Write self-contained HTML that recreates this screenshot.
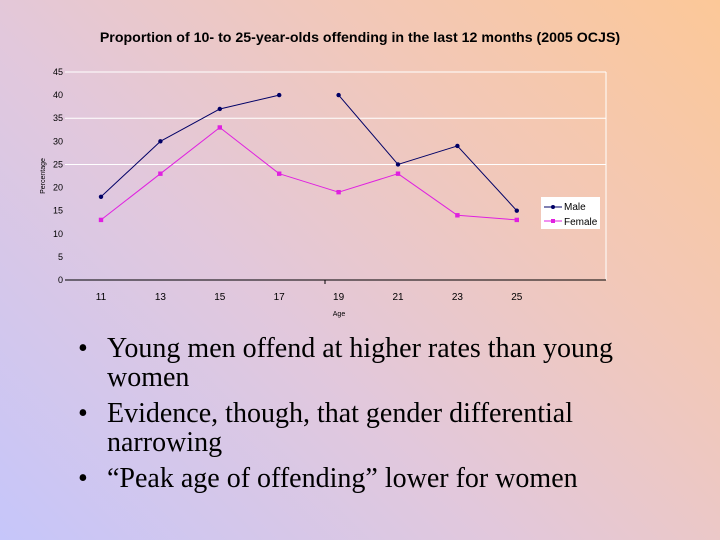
<!DOCTYPE html>
<html><head><meta charset="utf-8"><style>
body{margin:0;width:720px;height:540px;overflow:hidden;background:linear-gradient(45deg,#c6c6fa 0%,#e2c8dc 40%,#f2c8b8 70%,#fcc898 100%);font-family:"Liberation Sans",sans-serif;}
ul{position:absolute;left:78px;top:334px;margin:0;padding:0;list-style:none;font-family:"Liberation Serif",serif;font-size:28px;line-height:29px;color:#000;width:550px}
li{position:relative;padding-left:29px;margin-bottom:7px}
li:before{content:"•";position:absolute;left:0}
</style></head><body>
<svg width="720" height="330" style="position:absolute;left:0;top:0">
<text x="360" y="42" text-anchor="middle" font-size="14.2" font-weight="bold">Proportion of 10- to 25-year-olds offending in the last 12 months (2005 OCJS)</text>
<g id="grid"></g><g id="axes"></g><g id="series"></g>
<text x="339" y="316" text-anchor="middle" font-size="7">Age</text>
<text transform="translate(45,176) rotate(-90)" text-anchor="middle" font-size="7">Percentage</text>
<g>
<rect x="541" y="197" width="59" height="32" fill="#fff"/>
<line x1="544" y1="207" x2="562" y2="207" stroke="#000066"/><circle cx="553" cy="207" r="2" fill="#000066"/>
<text x="564" y="210" font-size="10">Male</text>
<line x1="544" y1="221" x2="562" y2="221" stroke="#e020e0"/><rect x="551" y="219" width="4" height="4" fill="#e020e0"/>
<text x="564" y="225" font-size="10">Female</text>
</g>
</svg>
<ul>
<li>Young men offend at higher rates than young women</li>
<li>Evidence, though, that gender differential narrowing</li>
<li>“Peak age of offending” lower for women</li>
</ul>
<script>
const ages=["11","13","15","17","19","21","23","25"];
const male=[18,30,37,40,40,25,29,15];
const maleBreaks=[3];
const female=[13,23,33,23,19,23,14,13];
const yTicks=[0,5,10,15,20,25,30,35,40,45];
const NS="http://www.w3.org/2000/svg";
const X=i=>101+i*59.4, Y=v=>280-v*(208/45);
function mk(t,a,p){const e=document.createElementNS(NS,t);for(const k in a)e.setAttribute(k,a[k]);p.appendChild(e);return e;}
const grid=document.getElementById('grid'),axes=document.getElementById('axes'),ser=document.getElementById('series');
[45,35,25].forEach(v=>{const l=mk('line',{x1:65,x2:606,y1:Y(v),y2:Y(v),stroke:'#fff','stroke-width':1},grid);

});
mk('line',{x1:606,x2:606,y1:Y(45),y2:280,stroke:'#fff'},grid);
mk('line',{x1:65,x2:606,y1:280,y2:280,stroke:'#000'},axes);
mk('line',{x1:325,x2:325,y1:280,y2:284,stroke:'#000'},axes);
yTicks.forEach(v=>{const t=mk('text',{x:63,y:Y(v)+3,'text-anchor':'end','font-size':9},axes);t.textContent=v;

});
ages.forEach((a,i)=>{const t=mk('text',{x:X(i),y:300,'text-anchor':'middle','font-size':10},axes);t.textContent=a;

});
for(let i=0;i<male.length-1;i++){if(maleBreaks.includes(i))continue;
const l=mk('line',{x1:X(i),y1:Y(male[i]),x2:X(i+1),y2:Y(male[i+1]),stroke:'#000066','stroke-width':1},ser);

}
for(let i=0;i<female.length-1;i++){
const l=mk('line',{x1:X(i),y1:Y(female[i]),x2:X(i+1),y2:Y(female[i+1]),stroke:'#e020e0','stroke-width':1},ser);

}
male.forEach((v,i)=>{const c=mk('circle',{cx:X(i),cy:Y(v),r:2.2,fill:'#000066'},ser);

});
female.forEach((v,i)=>{const r=mk('rect',{x:X(i)-2.2,y:Y(v)-2.2,width:4.4,height:4.4,fill:'#e020e0'},ser);

});
</script>
</body></html>
